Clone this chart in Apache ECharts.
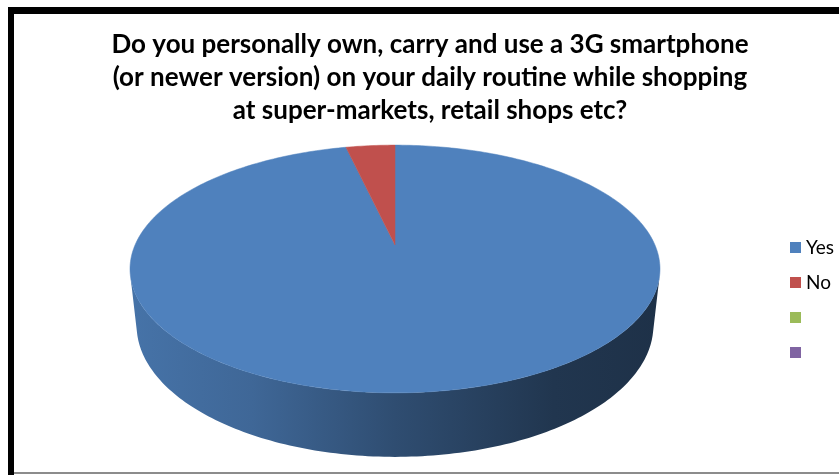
<!DOCTYPE html>
<html>
<head>
<meta charset="utf-8">
<script src="https://cdn.jsdelivr.net/npm/echarts@6/dist/echarts.min.js"></script>
<style>
  html, body { margin: 0; padding: 0; background: #fff; }
  #chart { width: 839px; height: 475px; }
</style>
</head>
<body>
<div id="chart"></div>
<script>
// Survey answers (share of respondents)
const categories = ['Yes', 'No', '', ''];
const values = [96.4, 3.6, 0, 0];
const colors = ['#4f81bd', '#c0504d', '#9bbb59', '#8064a2'];
const titleLines = [
  'Do you personally own, carry and use a 3G smartphone',
  '(or newer version) on your daily routine while shopping',
  'at super-markets, retail shops etc?'
];

// 3D pie camera set-up (perspective view of a short cylinder)
const PIE = {
  cx: 395, cy: 245,      // screen position of the top-face centre
  focal: 1193,           // focal length in screen pixels (radius = 1)
  dist: 4.589,           // camera distance, in radii
  tilt: 27.3 * Math.PI / 180,
  depth: 0.246           // cylinder height, in radii
};
const sinT = Math.sin(PIE.tilt), cosT = Math.cos(PIE.tilt);

// theta: 0 = far side (12 o'clock), increasing clockwise seen from above
function project(theta, h) {
  const X = Math.sin(theta), Z = Math.cos(theta);
  const v = Z * sinT + h * cosT;
  const d = PIE.dist + Z * cosT - h * sinT;
  return [PIE.cx + PIE.focal * X / d, PIE.cy - PIE.focal * v / d];
}
function projectCenter(h) {
  const v = h * cosT, d = PIE.dist - h * sinT;
  return [PIE.cx, PIE.cy - PIE.focal * v / d];
}

const total = values.reduce((a, b) => a + b, 0);
const startAngles = [];
values.reduce((acc, v, i) => { startAngles[i] = acc; return acc + v / total * Math.PI * 2; }, 0);

// visible part of the wall: where the outward normal faces the camera
const wallLimit = Math.acos(-1 / (PIE.dist * cosT));
const wallFrom = wallLimit, wallTo = Math.PI * 2 - wallLimit;

function arcPoints(a0, a1, h) {
  const pts = [];
  const n = Math.max(2, Math.ceil(Math.abs(a1 - a0) / (Math.PI / 180)));
  for (let k = 0; k <= n; k++) pts.push(project(a0 + (a1 - a0) * k / n, h));
  return pts;
}

function hexToRgb(hex) {
  const n = parseInt(hex.slice(1), 16);
  return [(n >> 16) & 255, (n >> 8) & 255, n & 255];
}
function shade(hex, f) {
  const c = hexToRgb(hex).map(x => Math.round(x * f));
  return 'rgb(' + c.join(',') + ')';
}
function wallFill(hex) {
  const stops = [[0, 0.89], [0.23, 0.8], [0.5, 0.6], [0.8, 0.42], [1, 0.38]];
  return {
    type: 'linear', global: true, x: 130, y: 0, x2: 660, y2: 0,
    colorStops: stops.map(s => ({ offset: s[0], color: shade(hex, s[1]) }))
  };
}

function makeRenderer(idx) {
  return function (params, api) {
    const val = api.value(0);
    if (!(val > 0)) return null;
    const a0 = startAngles[idx];
    const a1 = a0 + val / total * Math.PI * 2;
    const children = [];
    // outer wall
    const lo = Math.max(a0, wallFrom), hi = Math.min(a1, wallTo);
    if (hi > lo) {
      const top = arcPoints(lo, hi, 0);
      const bottom = arcPoints(hi, lo, -PIE.depth);
      children.push({
        type: 'polygon', z2: 1,
        shape: { points: top.concat(bottom) },
        style: { fill: wallFill(colors[idx]) }
      });
    }
    // top face
    children.push({
      type: 'polygon', z2: 10,
      shape: { points: [projectCenter(0)].concat(arcPoints(a0, a1, 0)) },
      style: { fill: colors[idx], stroke: colors[idx], lineWidth: 0.5 }
    });
    return { type: 'group', children: children };
  };
}

const seriesNames = categories.map((c, i) => c === '' ? '\u00a0'.repeat(i) : c);

const chart = echarts.init(document.getElementById('chart'), null, { renderer: 'canvas' });
chart.setOption({
  animation: false,
  backgroundColor: '#ffffff',
  legend: {
    orient: 'vertical',
    left: 785, top: 232,
    itemWidth: 11, itemHeight: 11, itemGap: 14,
    icon: 'rect',
    selectedMode: false,
    data: seriesNames,
    textStyle: { fontFamily: 'Lato', fontSize: 19, color: '#000', lineHeight: 21 }
  },
  graphic: [
    { type: 'rect', shape: { x: 8, y: 7, width: 6, height: 468 }, style: { fill: '#000' } },
    { type: 'rect', shape: { x: 8, y: 7, width: 831, height: 7 }, style: { fill: '#000' } },
    { type: 'rect', shape: { x: 14, y: 472, width: 825, height: 2 }, style: { fill: '#8c8c8c' } },
    {
      type: 'text', x: 430, y: 28,
      style: {
        text: titleLines.join('\n'),
        align: 'center', verticalAlign: 'top',
        font: 'bold 26px Lato', lineHeight: 33, fill: '#000'
      }
    }
  ],
  series: values.map((v, i) => ({
    type: 'custom',
    name: seriesNames[i],
    coordinateSystem: 'none',
    itemStyle: { color: colors[i] },
    renderItem: makeRenderer(i),
    data: [[v]]
  }))
});
</script>
</body>
</html>
